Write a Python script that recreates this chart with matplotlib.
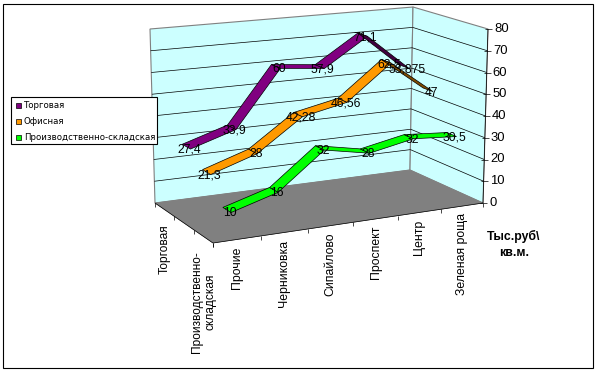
import matplotlib
matplotlib.use("Agg")
import matplotlib.pyplot as plt
import numpy as np

plt.rcParams["font.family"] = ["Liberation Sans", "DejaVu Sans"]

# --- Data ---
categories = ["Прочие", "Черниковка", "Сипайлово", "Проспект", "Центр", "Зеленая роща"]
series_names = ["Торговая", "Офисная", "Производственно-складская"]
depth_labels = ["Торговая", "", "Производственно-\nскладская"]
trade = [27.4, 33.9, 60, 57.9, 71.1, 53.875]
office = [21.3, 28, 42.28, 46.56, 62.5, 47]
warehouse = [10, 16, 32, 28, 32, 30.5]
value_ticks = [0, 10, 20, 30, 40, 50, 60, 70, 80]
unit_lines = ["Тыс.руб\\", "кв.м."]

# --- Colours ---
WALL = "#CCFFFF"
FLOOR = "#808080"
colors = ["#800080", "#FF9900", "#00FF00"]
dark_colors = ["#400040", "#804C00", "#008000"]

# --- Corners of the 3D box in pixels: (category, depth, height) ---
corners = {
    (0, 0, 0): (213, 243), (1, 0, 0): (483, 203),
    (0, 1, 0): (155, 203), (1, 1, 0): (410, 170),
    (0, 0, 1): (210, 57), (1, 0, 1): (488, 29),
    (0, 1, 1): (150, 29), (1, 1, 1): (413, 7),
}
VMAX = 80
RIBBON = 0.068
PERSPECTIVE = 1.08
LW = 0.5


def project(u, v, value):
    # slight foreshortening along the category axis
    u = u * PERSPECTIVE / (1 + (PERSPECTIVE - 1) * u)
    w = value / VMAX
    x, y = 0.0, 0.0
    for (a, b, c), (px, py) in corners.items():
        k = (u if a else 1 - u) * (v if b else 1 - v) * (w if c else 1 - w)
        x += k * px
        y += k * py
    return x, y


def poly(ax, pts, fc, ec="black", lw=LW, z=1):
    xs, ys = zip(*pts)
    ax.fill(xs, ys, facecolor=fc, edgecolor=ec, linewidth=lw, zorder=z)


def line(ax, p, q, color="black", lw=LW, z=2):
    ax.plot([p[0], q[0]], [p[1], q[1]], color=color, lw=lw, zorder=z,
            solid_capstyle="butt")


def area(pts):
    x, y = np.array(pts).T
    return 0.5 * np.sum(x * np.roll(y, -1) - y * np.roll(x, -1))


fig = plt.figure(figsize=(6, 3.72), dpi=100)
ax = fig.add_axes([0, 0, 1, 1])
ax.set_xlim(0, 600)
ax.set_ylim(372, 0)
ax.axis("off")

# --- Outer frame ---
poly(ax, [(3, 4), (593, 4), (593, 368), (3, 368)], "white", lw=0.8, z=0)

# --- Walls and floor ---
poly(ax, [project(0, 1, 0), project(1, 1, 0), project(1, 1, VMAX), project(0, 1, VMAX)], WALL, ec=FLOOR, lw=0.8)
poly(ax, [project(1, 1, 0), project(1, 0, 0), project(1, 0, VMAX), project(1, 1, VMAX)], WALL, ec=FLOOR, lw=0.8)
poly(ax, [project(0, 0, 0), project(1, 0, 0), project(1, 1, 0), project(0, 1, 0)], FLOOR, ec=FLOOR)

# --- Gridlines on the walls ---
for t in value_ticks[1:-1]:
    line(ax, project(0, 1, t), project(1, 1, t))
    line(ax, project(1, 1, t), project(1, 0, t))

# --- Axes ---
line(ax, project(1, 0, 0), project(1, 0, VMAX), z=3)
line(ax, project(0, 0, 0), project(1, 0, 0), z=3)
line(ax, project(0, 0, 0), project(0, 1, 0), z=3)

for t in value_ticks:
    x, y = project(1, 0, t)
    line(ax, (x - 3, y), (x + 4, y), z=3)
    ax.text(x + 6, y, str(t), fontsize=9.4, ha="left", va="center", color="black")

n = len(categories)
for i in range(n + 1):
    x, y = project(i / n, 0, 0)
    line(ax, (x, y), (x, y + 4), z=3)
for i in range(4):
    x, y = project(0, i / 3, 0)
    line(ax, (x, y), (x, y + 4), z=3)

for i, name in enumerate(categories):
    x, y = project((i + 0.5) / n, 0, 0)
    ax.text(x, y + 7, name, rotation=90, fontsize=8.8, ha="center", va="top")

for i, name in enumerate(depth_labels):
    if not name:
        continue
    x, y = project(0, 1 - (i + 0.5) / 3, 0)
    ax.text(x, y + 15, name, rotation=90, fontsize=8.6, ha="center", va="top",
            ma="center", linespacing=1.15)

# --- Ribbons, back series first ---
all_series = [trade, office, warehouse]
for s, vals in enumerate(all_series):
    v = 1 - (s + 0.5) / 3
    for i in range(n - 1):
        u0, u1 = (i + 0.5) / n, (i + 1.5) / n
        pts = [project(u0, v - RIBBON, vals[i]), project(u1, v - RIBBON, vals[i + 1]),
               project(u1, v + RIBBON, vals[i + 1]), project(u0, v + RIBBON, vals[i])]
        fc = colors[s] if area(pts) < 0 else dark_colors[s]
        poly(ax, pts, fc, z=4 + s)

# --- Data labels ---
for s, vals in enumerate(all_series):
    v = 1 - (s + 0.5) / 3
    for i, val in enumerate(vals):
        x, y = project((i + 0.5) / n, v, val)
        ax.text(x + 3, y + 3, f"{val:g}".replace(".", ","), fontsize=8.8,
                ha="center", va="center", zorder=10)

# --- Unit label ---
ax.text(514, 236, unit_lines[0], fontsize=8.8, fontweight="bold", ha="center", va="center")
ax.text(514, 253, unit_lines[1], fontsize=8.8, fontweight="bold", ha="center", va="center")

# --- Legend ---
poly(ax, [(11, 97), (157, 97), (157, 144), (11, 144)], "white", lw=0.8, z=11)
for i, name in enumerate(series_names):
    y = 105 + 16 * i
    poly(ax, [(16, y - 2.5), (21, y - 2.5), (21, y + 2.5), (16, y + 2.5)], colors[i], z=12)
    ax.text(24, y, name, fontsize=6.2, family="DejaVu Sans", ha="left", va="center", zorder=12)

fig.savefig("out.png", dpi=100)
